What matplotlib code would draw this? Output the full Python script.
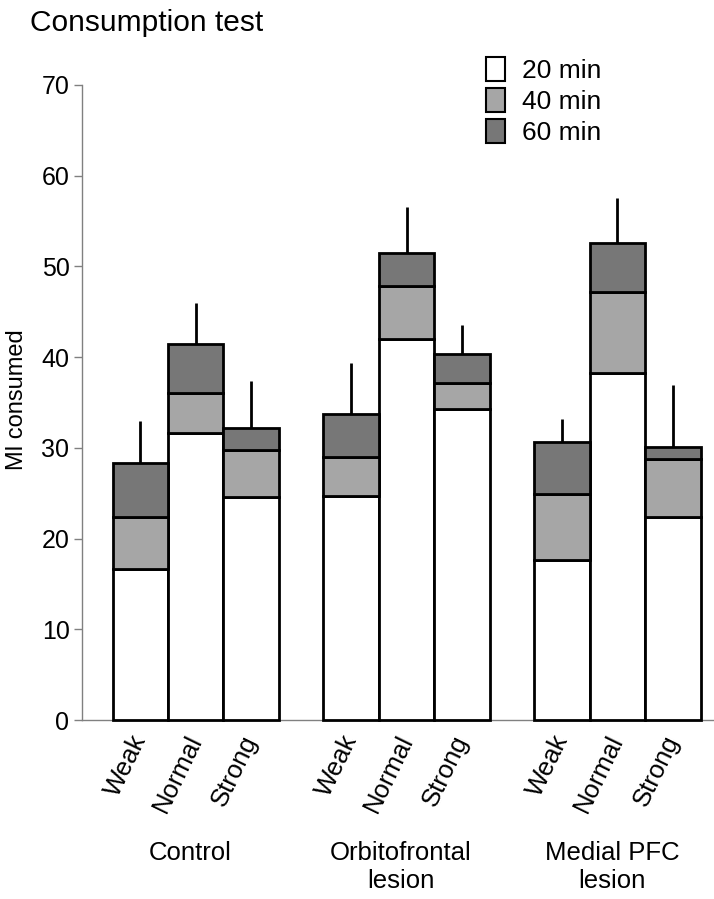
import matplotlib
matplotlib.use("Agg")
import matplotlib.pyplot as plt
from matplotlib.patches import Patch
import numpy as np

plt.rcParams['font.family'] = ['Liberation Sans', 'DejaVu Sans']

# data (ml consumed, cumulative at each time point)
groups = ['Control', 'Orbitofrontal\nlesion', 'Medial PFC\nlesion']
strengths = ['Weak', 'Normal', 'Strong']
min20 = [16.6, 31.6, 24.6, 24.7, 42.0, 34.3, 17.6, 38.2, 22.4]
min40 = [22.4, 36.0, 29.8, 29.0, 47.8, 37.1, 24.9, 47.2, 28.8]
min60 = [28.3, 41.5, 32.2, 33.7, 51.5, 40.3, 30.7, 52.6, 30.1]
sem = [4.7, 4.5, 5.2, 5.7, 5.1, 3.2, 2.5, 4.9, 6.8]
time_labels = ['20 min', '40 min', '60 min']

colors = ['white', '#a6a6a6', '#777777']

fig = plt.figure(figsize=(7.14, 8.99), dpi=100)
ax = fig.add_axes([82 / 714, 179 / 899, 632 / 714, 635 / 899])

# bar positions: three bars per group, gap between groups
x = np.array([g * 3.8 + i for g in range(len(groups)) for i in range(len(strengths))])

# stacked look: draw each cumulative total as its own segment
bottoms = [np.zeros(len(x)), np.array(min20), np.array(min40)]
tops = [np.array(min20), np.array(min40), np.array(min60)]
for b, t, c in zip(bottoms, tops, colors):
    ax.bar(x, t - b, bottom=b, width=1.0, color=c, edgecolor='black',
           linewidth=2, zorder=3, clip_on=False)

# one-sided error bars
ax.vlines(x, min60, np.array(min60) + np.array(sem), color='black',
          linewidth=2, zorder=3)

ax.set_xlim(-1.05, 10.34)
ax.set_ylim(0, 70)
ax.set_yticks(range(0, 71, 10))
ax.tick_params(axis='y', labelsize=18, length=6, width=1, color='#808080', pad=3)
ax.set_xticks(x, strengths * len(groups), rotation=64, ha='right', va='center',
              rotation_mode='anchor', fontsize=18.5)
ax.tick_params(axis='x', length=0, pad=12)

for s in ['top', 'right']:
    ax.spines[s].set_visible(False)
for s in ['left', 'bottom']:
    ax.spines[s].set_color('#808080')
    ax.spines[s].set_linewidth(1)

# group names under the tick labels
trans = matplotlib.transforms.blended_transform_factory(ax.transData, ax.transAxes)
for g, name in enumerate(groups):
    ax.text(g * 3.8 + 1 - 0.1, -0.19, name, transform=trans, ha='center', va='top',
            fontsize=18.5, linespacing=1.25)

fig.text(17 / 714, 1 - 400 / 899, 'Ml consumed', rotation=90, ha='center',
         va='center', fontsize=17)
fig.text(30 / 714, 1 - 9 / 899, 'Consumption test', ha='left', va='top', fontsize=21.5)

handles = [Patch(facecolor=c, edgecolor='black', linewidth=1.5) for c in colors]
fig.legend(handles, time_labels, loc='upper left',
           bbox_to_anchor=(486 / 714, 1 - 57 / 899), frameon=False, fontsize=19,
           handlelength=0.72, handleheight=1.02, handletextpad=0.65,
           labelspacing=0.19, borderpad=0, borderaxespad=0)

fig.savefig('out.png', dpi=100)
